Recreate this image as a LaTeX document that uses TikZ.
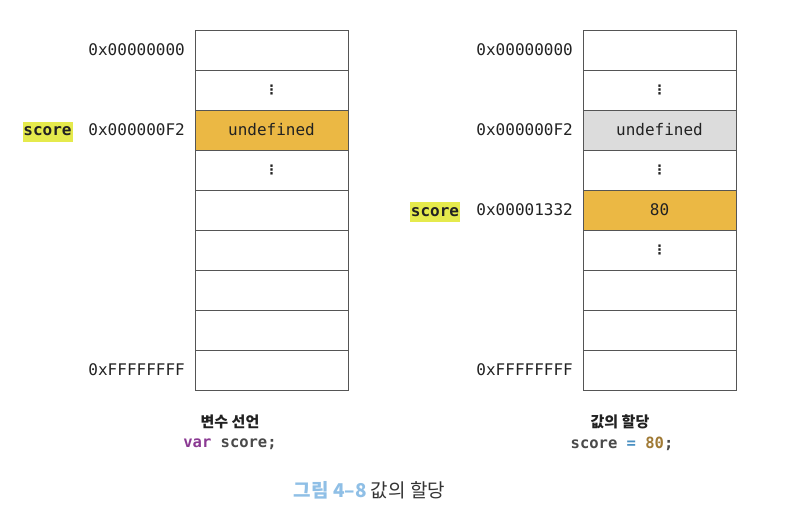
\documentclass[tikz,border=0pt]{standalone}
\usepackage{fontspec}
\setmonofont{DejaVu Sans Mono}
\newfontfamily\kr{Noto Sans CJK KR}
\newfontfamily\dv{DejaVu Sans}
\definecolor{cellorange}{HTML}{EBB844}
\definecolor{cellgray}{HTML}{DCDCDC}
\definecolor{cellline}{HTML}{555555}
\definecolor{hlyellow}{HTML}{E5EA4C}
\definecolor{txt}{HTML}{222222}
\definecolor{kwpurple}{HTML}{8B3A93}
\definecolor{numbrown}{HTML}{A07A35}
\definecolor{eqblue}{HTML}{4A90C2}
\definecolor{codegray}{HTML}{4A4A4A}
\definecolor{capblue}{HTML}{8FBFE6}
\definecolor{capdark}{HTML}{333333}
\begin{document}
\begin{tikzpicture}[x=1pt,y=-1pt,
  cell/.style={draw=cellline, line width=0.8pt, minimum width=153pt, minimum height=40pt, inner sep=0pt, outer sep=0pt, font=\ttfamily\fontsize{16}{16}\selectfont, text=txt},
  addr/.style={anchor=east, inner sep=0pt, font=\ttfamily\fontsize{16}{16}\selectfont, text=txt},
  hl/.style={fill=hlyellow, minimum width=50pt, minimum height=20pt, inner sep=0pt, font=\ttfamily\bfseries\fontsize{16}{16}\selectfont, text=txt},
  vd/.style={inner sep=0pt, font=\dv\bfseries\fontsize{13}{13}\selectfont, text=txt},
  krlabel/.style={inner sep=0pt, font=\kr\bfseries\fontsize{15}{15}\selectfont, text=txt},
  code/.style={inner sep=0pt, font=\ttfamily\bfseries\fontsize{15.5}{15.5}\selectfont, text=codegray},
  caption/.style={inner sep=0pt, font=\kr\fontsize{19}{19}\selectfont}
]
\useasboundingbox (0,0) rectangle (792,528);
\fill[white] (0,0) rectangle (792,528);

% left memory column
\node[cell] (L0) at (271.5,50) {};
\node[cell] (L1) at (271.5,90) {};
\node[cell, fill=cellorange] (L2) at (271.5,130) {undefined};
\node[cell] (L3) at (271.5,170) {};
\node[cell] (L4) at (271.5,210) {};
\node[cell] (L5) at (271.5,250) {};
\node[cell] (L6) at (271.5,290) {};
\node[cell] (L7) at (271.5,330) {};
\node[cell] (L8) at (271.5,370) {};
\node[vd] (L1d) at (L1.center) {\char"22EE};
\node[vd] (L3d) at (L3.center) {\char"22EE};

\node[addr] (LA0) at (185,50) {0x00000000};
\node[addr] (LA2) at (185,130) {0x000000F2};
\node[addr] (LA8) at (185,370) {0xFFFFFFFF};
\node[hl] (LS) at (47.5,131.5) {score};

% right memory column
\node[cell] (R0) at (659.5,50) {};
\node[cell] (R1) at (659.5,90) {};
\node[cell, fill=cellgray] (R2) at (659.5,130) {undefined};
\node[cell] (R3) at (659.5,170) {};
\node[cell, fill=cellorange] (R4) at (659.5,210) {80};
\node[cell] (R5) at (659.5,250) {};
\node[cell] (R6) at (659.5,290) {};
\node[cell] (R7) at (659.5,330) {};
\node[cell] (R8) at (659.5,370) {};
\node[vd] (R1d) at (R1.center) {\char"22EE};
\node[vd] (R3d) at (R3.center) {\char"22EE};
\node[vd] (R5d) at (R5.center) {\char"22EE};

\node[addr] (RA0) at (573,50) {0x00000000};
\node[addr] (RA2) at (573,130) {0x000000F2};
\node[addr] (RA4) at (573,210) {0x00001332};
\node[addr] (RA8) at (573,370) {0xFFFFFFFF};
\node[hl] (RS) at (435,212) {score};

% sub captions
\node[krlabel] (LT) at (230,422) {변수 선언};
\node[code] (LC) at (230,444) {\textcolor{kwpurple}{var} score;};
\node[krlabel] (RT) at (620,422) {값의 할당};
\node[code] (RC) at (622,444) {score \textcolor{eqblue}{=} \textcolor{numbrown}{80};};

% figure caption
\node[caption] (CAP) at (369.5,490) {\textcolor{capblue}{\bfseries 그림 4–8} \textcolor{capdark}{값의 할당}};
\end{tikzpicture}
\end{document}
